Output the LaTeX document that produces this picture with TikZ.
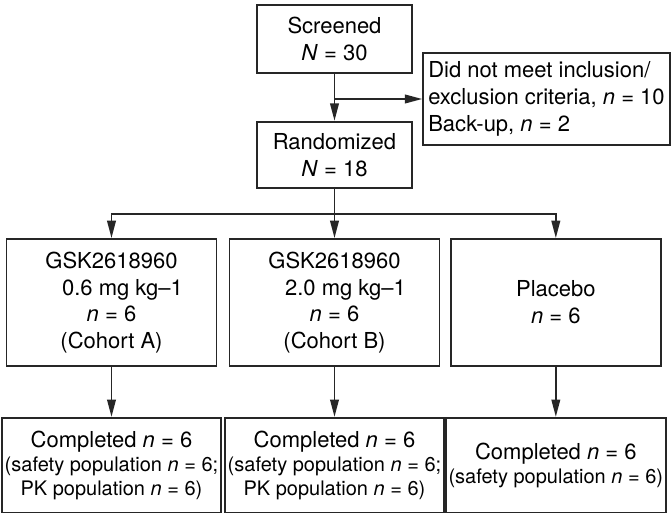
\documentclass[tikz,border=0pt]{standalone}
\usepackage{fontspec}
\setmainfont{TeX Gyre Heros}
\usetikzlibrary{calc, arrows.meta}

\newcommand{\popfont}{\fontsize{15}{17.5}\selectfont}

\begin{document}
\begin{tikzpicture}[->, >={Triangle[length=13pt,width=6.5pt]}, line width=1.3pt, draw=black!85, font=\fontsize{16.5}{20}\selectfont]
\tikzstyle{box}=[rectangle, draw=black!85, line width=1.4pt, align=center, inner sep=2pt, text=black]
\tikzstyle{top box}=[box, minimum width=116.25pt, minimum height=50pt]
\tikzstyle{arm box}=[box, minimum width=157.5pt, minimum height=95.25pt]
\tikzstyle{end box}=[box, minimum width=157.5pt, minimum height=71pt, font=\fontsize{16.5}{18}\selectfont]
\useasboundingbox (-250.875pt,29.25pt) rectangle (253.125pt,-358.5pt);
\node[top box, minimum height=51pt] (screened)                                     {Screened\\\textit{N} = 30};
\node[top box]   (randomized)[below of=screened, node distance=87pt]               {Randomized\\\textit{N} = 18};
\node[box, align=left, minimum width=185pt, minimum height=69pt]
                 (excluded)[right of=screened, node distance=159pt, yshift=-45pt]  {Did not meet inclusion/\\exclusion criteria, \textit{n} = 10\\Back-up, \textit{n} = 2};
\node[arm box]   (cohortB)[below of=randomized, node distance=110.6pt]             {GSK2618960\\\hspace*{1em}2.0 mg kg--1\\\textit{n} = 6\\(Cohort B)};
\node[arm box]   (cohortA)[left of=cohortB, node distance=167.25pt]                {GSK2618960\\\hspace*{1em}0.6 mg kg--1\\\textit{n} = 6\\(Cohort A)};
\node[arm box]   (placebo)[right of=cohortB, node distance=166pt]                  {Placebo\\\textit{n} = 6};
\node[end box]   (doneA)[below of=cohortA, node distance=122pt]                    {Completed \textit{n} = 6\\{\popfont (safety population \textit{n} = 6;}\\{\popfont PK population \textit{n} = 6)}};
\node[end box]   (doneB)[below of=cohortB, node distance=122pt]                    {Completed \textit{n} = 6\\{\popfont (safety population \textit{n} = 6;}\\{\popfont PK population \textit{n} = 6)}};
\node[end box]   (doneP)[below of=placebo, node distance=122pt]                    {Completed \textit{n} = 6\\{\popfont (safety population \textit{n} = 6)}};
\coordinate (branch) at (screened.south |- excluded.west);
\coordinate (split) at ($(randomized.south)!0.5!(cohortB.north)$);
\path
(screened) edge (randomized)
(branch)   edge (excluded.west)
(cohortA)  edge (doneA)
(cohortB)  edge (doneB)
(placebo)  edge (doneP);
\draw[-] (randomized.south) -- (split);
\draw (split) -| (cohortA.north);
\draw (split) -| (cohortB.north);
\draw (split) -| (placebo.north);
\end{tikzpicture}
\end{document}
